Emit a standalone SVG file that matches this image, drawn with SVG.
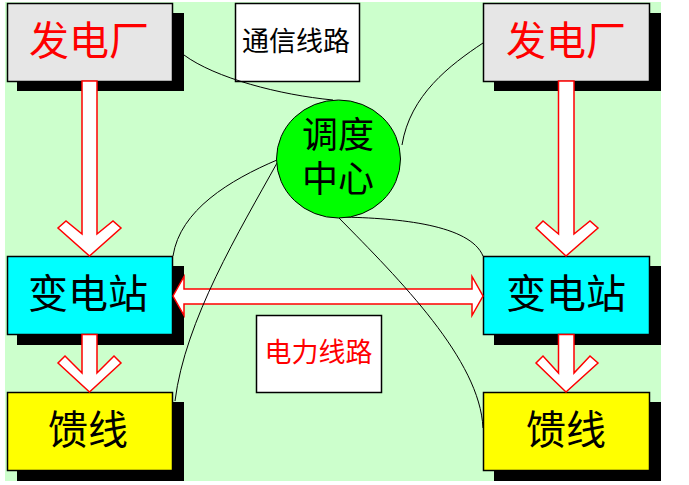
<svg xmlns="http://www.w3.org/2000/svg" width="689" height="485" viewBox="0 0 689 485">
<style>
.shadow{fill:#000}
.box{stroke:#000;stroke-width:1.5}
.plant{fill:#E6E6E6}
.sub{fill:#00FFFF}
.feed{fill:#FFFF00}
.label{fill:#fff;stroke:#000;stroke-width:1.5}
.t{font-family:"Noto Sans CJK SC","Noto Sans CJK JP",sans-serif;text-anchor:middle}
.big{font-size:40px}
.mid{font-size:36px}
.small{font-size:27px}
.red{fill:#FF0000}
.blk{fill:#000}
.arrow{fill:#fff;stroke:#FF0000;stroke-width:1.5;stroke-linejoin:miter}
.wire{fill:none;stroke:#000;stroke-width:1}
</style>
<rect x="0" y="0" width="689" height="485" fill="#fff"/>
<rect x="5" y="2" width="656" height="479" fill="#CCFFCC"/>

<g id="plant-left">
<rect class="shadow" x="17" y="13" width="167" height="78"/>
<rect class="box plant" x="7.5" y="3.5" width="165" height="78"/>
<text class="t big red" x="89" y="55">发电厂</text>
</g>
<g id="plant-right">
<rect class="shadow" x="494" y="13" width="167" height="78"/>
<rect class="box plant" x="483.5" y="3.5" width="166" height="78"/>
<text class="t big red" x="566" y="55">发电厂</text>
</g>
<g id="sub-left">
<rect class="shadow" x="17" y="266" width="167" height="79"/>
<rect class="box sub" x="7.5" y="256.5" width="165" height="78"/>
<text class="t big blk" x="88" y="308">变电站</text>
</g>
<g id="sub-right">
<rect class="shadow" x="494" y="266" width="167" height="79"/>
<rect class="box sub" x="483.5" y="256.5" width="166" height="78"/>
<text class="t big blk" x="566" y="308">变电站</text>
</g>
<g id="feeder-left">
<rect class="shadow" x="17" y="402" width="167" height="79"/>
<rect class="box feed" x="7.5" y="392.5" width="165" height="78"/>
<text class="t big blk" x="88" y="444">馈线</text>
</g>
<g id="feeder-right">
<rect class="shadow" x="494" y="402" width="167" height="79"/>
<rect class="box feed" x="483.5" y="392.5" width="166" height="78"/>
<text class="t big blk" x="566" y="444">馈线</text>
</g>
<g id="comm-label">
<rect class="label" x="235.5" y="3.5" width="124" height="78"/>
<text class="t small blk" x="296" y="51">通信线路</text>
</g>
<g id="power-label">
<rect class="label" x="256.5" y="315.5" width="125" height="77"/>
<text class="t small red" x="318.5" y="362">电力线路</text>
</g>

<g id="connectors">
<polygon class="arrow" points="82,81 82,234 66,221 58,228 89.5,256 121,228 113,221 97,234 97,81"/>
<polygon class="arrow" points="82,334.5 82,373 65,356 58,363 89.5,392 121,363 114,356 97,373 97,334.5"/>
<polygon class="arrow" points="558.5,81 558.5,234 543,221 536,228 566,256 598,228 590,221 574,234 574,81"/>
<polygon class="arrow" points="558.5,334.5 558.5,373 543,356 536,363 566,392 598,363 590,356 574,373 574,334.5"/>
<polygon class="arrow" points="173,296 184,276.5 184,289 472,289 472,276.5 483,296 472,315.5 472,304 184,304 184,315.5"/>
<path class="wire" d="M184,55 C215,78 280,95 333,100"/>
<path class="wire" d="M483,43 C450,65 410,95 402,145"/>
<path class="wire" d="M277,160 C230,180 180,210 173,256"/>
<path class="wire" d="M277,163 C240,230 185,320 175,401"/>
<path class="wire" d="M340,217 C400,218 470,225 483,256"/>
<path class="wire" d="M338,217 C400,280 480,360 483,428"/>
</g>

<g id="dispatch">
<ellipse cx="338.5" cy="159" rx="62" ry="59" fill="#00FF00" stroke="#000" stroke-width="1"/>
<text class="t mid blk" x="338" y="147.5"><tspan x="338" y="147.5">调度</tspan><tspan x="338" y="191.5">中心</tspan></text>
</g>
</svg>
